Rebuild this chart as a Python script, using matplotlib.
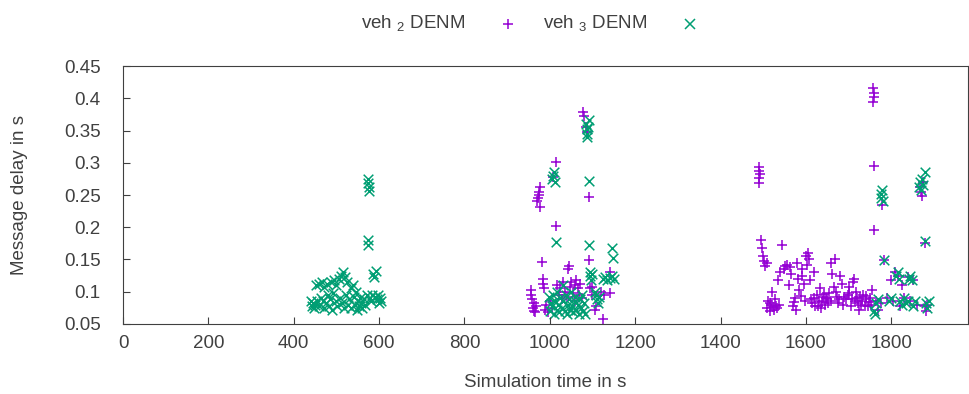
import matplotlib.pyplot as plt
from matplotlib.lines import Line2D

plt.rcParams['font.family'] = ['Liberation Sans', 'DejaVu Sans']
plt.rcParams['mathtext.fontset'] = 'custom'
plt.rcParams['mathtext.rm'] = 'Liberation Sans'

# veh 2 DENM (purple +)
veh2_x = [955, 957, 958, 960, 962, 963, 965, 968, 970, 972, 974, 975, 977, 978, 982, 983, 984,
          986, 988, 990, 995, 1000, 1005, 1008, 1015, 1015, 1018, 1022, 1025, 1028, 1030, 1035,
          1040, 1043, 1045, 1048, 1050, 1055, 1058, 1060, 1062, 1065, 1068, 1070, 1075, 1078,
          1080, 1085, 1088, 1092, 1092, 1095, 1099, 1100, 1105, 1108, 1120, 1125, 1128, 1140, 1142,
          1490, 1491, 1492, 1490, 1491, 1758, 1759, 1760, 1757, 1760, 1760, 1778, 1783,
          1495, 1497, 1500, 1503, 1505, 1508, 1510, 1512, 1515, 1518, 1520, 1525, 1530, 1535,
          1540, 1545, 1548, 1550, 1555, 1560, 1565, 1570, 1575, 1580, 1585, 1590, 1595, 1600,
          1605, 1608, 1610, 1612, 1615, 1620, 1622, 1625, 1630, 1632, 1635, 1640, 1645, 1650,
          1655, 1660, 1665, 1668, 1670, 1675, 1680, 1685, 1690, 1695, 1700, 1705, 1710, 1712,
          1715, 1720, 1725, 1730, 1735, 1740, 1745, 1750, 1755, 1765, 1770, 1775, 1790, 1800,
          1805, 1810, 1815, 1820, 1825, 1830, 1840, 1845, 1850, 1860, 1868, 1870, 1872, 1875,
          1878, 1880, 1882, 1885,
          1517, 1522, 1527, 1532, 1538, 1572, 1578, 1588, 1598, 1618, 1628, 1638, 1642, 1648,
          1652, 1658, 1672, 1678, 1688, 1698, 1702, 1708, 1718, 1722, 1728, 1732, 1738, 1742,
          1748, 1752, 1562, 1582, 1592, 1602, 1662]
veh2_y = [0.095, 0.102, 0.088, 0.075, 0.07, 0.082, 0.068, 0.078, 0.24, 0.245, 0.25, 0.255, 0.262,
          0.232, 0.146, 0.12, 0.112, 0.105, 0.072, 0.08, 0.068, 0.085, 0.075, 0.278, 0.301, 0.202,
          0.11, 0.095, 0.105, 0.088, 0.115, 0.1, 0.092, 0.135, 0.14, 0.108, 0.115, 0.098, 0.11,
          0.085, 0.118, 0.105, 0.095, 0.112, 0.09, 0.379, 0.372, 0.355, 0.348, 0.247, 0.149,
          0.105, 0.107, 0.095, 0.072, 0.078, 0.1, 0.058, 0.095, 0.13, 0.098,
          0.293, 0.287, 0.282, 0.276, 0.269, 0.416, 0.408, 0.402, 0.395, 0.295, 0.196, 0.235, 0.149,
          0.18, 0.168, 0.155, 0.148, 0.14, 0.145, 0.075, 0.085, 0.07, 0.08, 0.1, 0.072, 0.078,
          0.118, 0.13, 0.172, 0.135, 0.14, 0.142, 0.11, 0.128, 0.078, 0.09, 0.145, 0.102, 0.125,
          0.112, 0.155, 0.16, 0.15, 0.118, 0.088, 0.082, 0.13, 0.078, 0.095, 0.085, 0.105, 0.075,
          0.092, 0.08, 0.088, 0.098, 0.145, 0.108, 0.15, 0.1, 0.082, 0.125, 0.112, 0.092, 0.088,
          0.108, 0.078, 0.115, 0.12, 0.085, 0.09, 0.072, 0.08, 0.095, 0.088, 0.078, 0.09, 0.102,
          0.085, 0.072, 0.082, 0.09, 0.118, 0.085, 0.13, 0.125, 0.078, 0.11, 0.09, 0.122, 0.085,
          0.118, 0.08, 0.262, 0.255, 0.248, 0.27, 0.078, 0.175, 0.07, 0.08,
          0.082, 0.076, 0.088, 0.074, 0.08, 0.084, 0.072, 0.094, 0.086, 0.09, 0.078, 0.084, 0.096,
          0.09, 0.082, 0.086, 0.092, 0.088, 0.08, 0.095, 0.098, 0.088, 0.1, 0.082, 0.092, 0.086,
          0.078, 0.094, 0.084, 0.08, 0.138, 0.12, 0.135, 0.142, 0.128]

# veh 3 DENM (green x)
veh3_x = [440, 442, 445, 448, 450, 452, 455, 458, 460, 463, 465, 468, 470, 472, 475, 478, 480,
          483, 485, 488, 490, 492, 495, 498, 500, 502, 505, 508, 510, 512, 515, 518, 520, 522,
          525, 528, 530, 533, 535, 538, 540, 543, 545, 548, 550, 553, 555, 558, 560, 565, 568,
          572, 575, 575, 576, 576, 574, 575, 578, 580, 583, 586, 588, 590, 592, 595, 598, 600,
          603, 605,
          998, 1000, 1003, 1005, 1008, 1010, 1012, 1005, 1008, 1010, 1013, 1015, 1016, 1018,
          1020, 1022, 1025, 1028, 1030, 1032, 1035, 1038, 1040, 1042, 1045, 1048, 1050, 1052,
          1055, 1058, 1060, 1062, 1065, 1068, 1070, 1072, 1075, 1078, 1080, 1082, 1085, 1086,
          1087, 1088, 1090, 1091, 1092, 1092, 1093, 1095, 1097, 1100, 1105, 1108, 1110, 1113,
          1115, 1125, 1130, 1135, 1140, 1145, 1146, 1148, 1150,
          1760, 1762, 1765, 1770, 1775, 1777, 1779, 1780, 1783, 1795, 1800, 1812, 1815, 1818,
          1820, 1825, 1830, 1835, 1840, 1842, 1845, 1848, 1850, 1855, 1865, 1868, 1870, 1872,
          1875, 1878, 1880, 1882, 1885, 1888]
veh3_y = [0.085, 0.078, 0.082, 0.075, 0.08, 0.11, 0.085, 0.112, 0.078, 0.09, 0.115, 0.085,
          0.108, 0.075, 0.082, 0.112, 0.095, 0.078, 0.088, 0.115, 0.072, 0.098, 0.118, 0.085,
          0.11, 0.078, 0.12, 0.09, 0.125, 0.082, 0.13, 0.075, 0.122, 0.095, 0.115, 0.08, 0.088,
          0.105, 0.075, 0.11, 0.092, 0.08, 0.1, 0.072, 0.085, 0.078, 0.09, 0.082, 0.075, 0.088,
          0.08, 0.095, 0.275, 0.268, 0.262, 0.257, 0.18, 0.172, 0.09, 0.085, 0.095, 0.128, 0.122,
          0.092, 0.132, 0.088, 0.095, 0.082, 0.09, 0.085,
          0.092, 0.07, 0.082, 0.275, 0.28, 0.285, 0.27, 0.078, 0.095, 0.065, 0.085, 0.177, 0.072,
          0.1, 0.08, 0.068, 0.09, 0.075, 0.11, 0.085, 0.07, 0.095, 0.065, 0.08, 0.088, 0.072,
          0.1, 0.078, 0.068, 0.085, 0.092, 0.072, 0.08, 0.065, 0.088, 0.075, 0.095, 0.07, 0.082,
          0.065, 0.36, 0.352, 0.345, 0.34, 0.356, 0.366, 0.272, 0.172, 0.13, 0.125, 0.118, 0.128,
          0.1, 0.095, 0.088, 0.083, 0.092, 0.12, 0.122, 0.118, 0.121, 0.125, 0.168, 0.152, 0.12,
          0.07, 0.065, 0.082, 0.088, 0.245, 0.252, 0.258, 0.24, 0.149, 0.085, 0.09, 0.125, 0.13,
          0.12, 0.085, 0.08, 0.09, 0.082, 0.085, 0.12, 0.125, 0.118, 0.078, 0.085, 0.262, 0.27,
          0.258, 0.275, 0.265, 0.285, 0.178, 0.082, 0.075, 0.085]

xticks = [0, 200, 400, 600, 800, 1000, 1200, 1400, 1600, 1800]
yticks = [0.05, 0.1, 0.15, 0.2, 0.25, 0.3, 0.35, 0.4, 0.45]
purple = '#9400d3'
green = '#009e73'
grey = '#404040'

fig = plt.figure(figsize=(9.69, 3.94), dpi=100)
ax = fig.add_axes([0.127, 0.178, 0.872, 0.654])

ax.scatter(veh2_x, veh2_y, marker='+', s=60, color=purple, linewidths=1.1)
ax.scatter(veh3_x, veh3_y, marker='x', s=48, color=green, linewidths=1.1)

ax.set_xlim(0, 1980)
ax.set_ylim(0.05, 0.45)
ax.set_xticks(xticks)
ax.set_yticks(yticks)
ax.set_yticklabels([f'{v:g}' for v in yticks])
ax.tick_params(direction='in', length=5, labelsize=13.5, colors=grey, pad=8)
ax.tick_params(axis='y', pad=16)
for s in ax.spines.values():
    s.set_color(grey)
ax.set_xlabel('Simulation time in s', fontsize=13.5, color=grey, labelpad=16)
ax.set_ylabel('Message delay in s', fontsize=13.5, color=grey, labelpad=26)

# key above the plot, gnuplot style: text then sample
fig.text(0.48, 0.94, 'veh $_{2}$ DENM', ha='right', va='center', fontsize=13.5, color=grey)
fig.text(0.668, 0.94, 'veh $_{3}$ DENM', ha='right', va='center', fontsize=13.5, color=grey)
fig.add_artist(Line2D([0.524], [0.94], marker='+', markersize=7, color=purple,
                      markeredgewidth=1.1, linestyle='none', transform=fig.transFigure))
fig.add_artist(Line2D([0.712], [0.94], marker='x', markersize=6.5, color=green,
                      markeredgewidth=1.1, linestyle='none', transform=fig.transFigure))

fig.savefig('out.png', dpi=100)
